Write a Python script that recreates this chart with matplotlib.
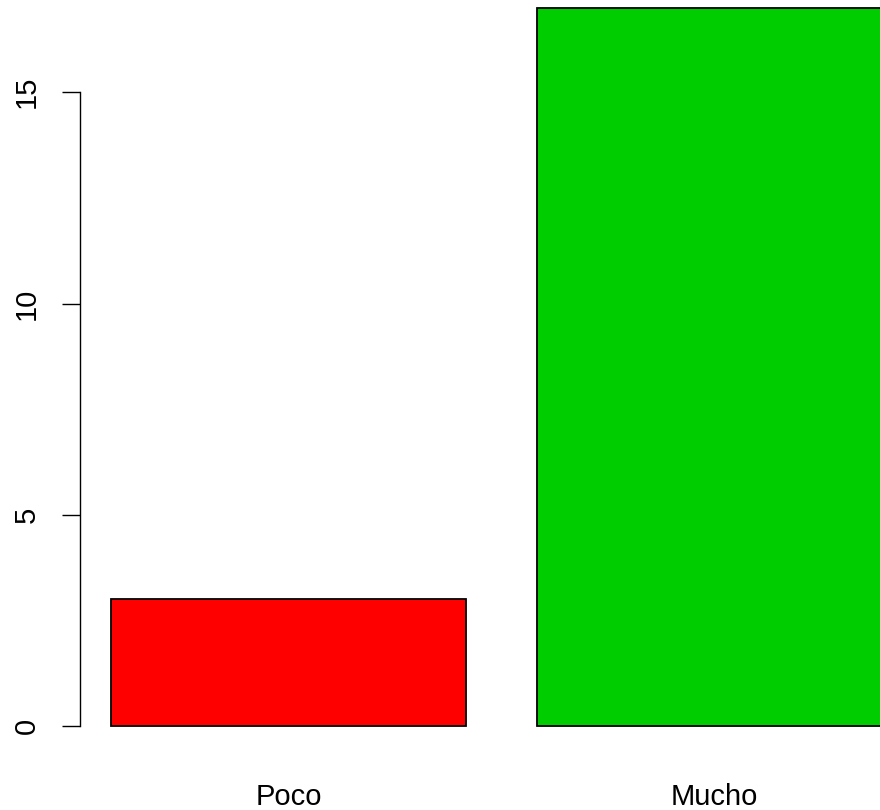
import matplotlib
matplotlib.use("Agg")
import matplotlib.pyplot as plt

categories = ["Poco", "Mucho"]
values = [3, 17]
colors = ["#FF0000", "#00CD00"]
yticks = [0, 5, 10, 15]

plt.rcParams['font.family'] = ['Liberation Sans', 'DejaVu Sans']

fig = plt.figure(figsize=(8.8, 8.1), dpi=100)
W, H = 880, 810
left_px, right_px = 79.8, 923.0
bottom_px, top_px = 755.0, -21.0
ax = fig.add_axes([left_px / W, (H - bottom_px) / H,
                   (right_px - left_px) / W, (bottom_px - top_px) / H])

width = 1.0
space = 0.2
xs = [space + width / 2 + i * (width + space) for i in range(len(values))]
ax.bar(xs, values, width=width, color=colors, edgecolor="black", linewidth=1.3)

lo = space
hi = xs[-1] + width / 2
pad = 0.04 * (hi - lo)
ax.set_xlim(lo - pad, hi + pad)
ymax = max(values)
ax.set_ylim(-0.04 * ymax, ymax * 1.04)

for s in ["top", "right", "bottom"]:
    ax.spines[s].set_visible(False)
ax.spines["left"].set_bounds(0, 15)
ax.spines["left"].set_linewidth(1.0)

ax.set_yticks(yticks)
ax.set_yticklabels([str(t) for t in yticks], rotation=90, va="center", fontsize=21)
ax.tick_params(axis="y", length=13, width=1.0, pad=15)

ax.set_xticks(xs)
ax.set_xticklabels(categories, fontsize=21)
ax.tick_params(axis="x", length=0, pad=20)

fig.savefig("out.png", dpi=100)
